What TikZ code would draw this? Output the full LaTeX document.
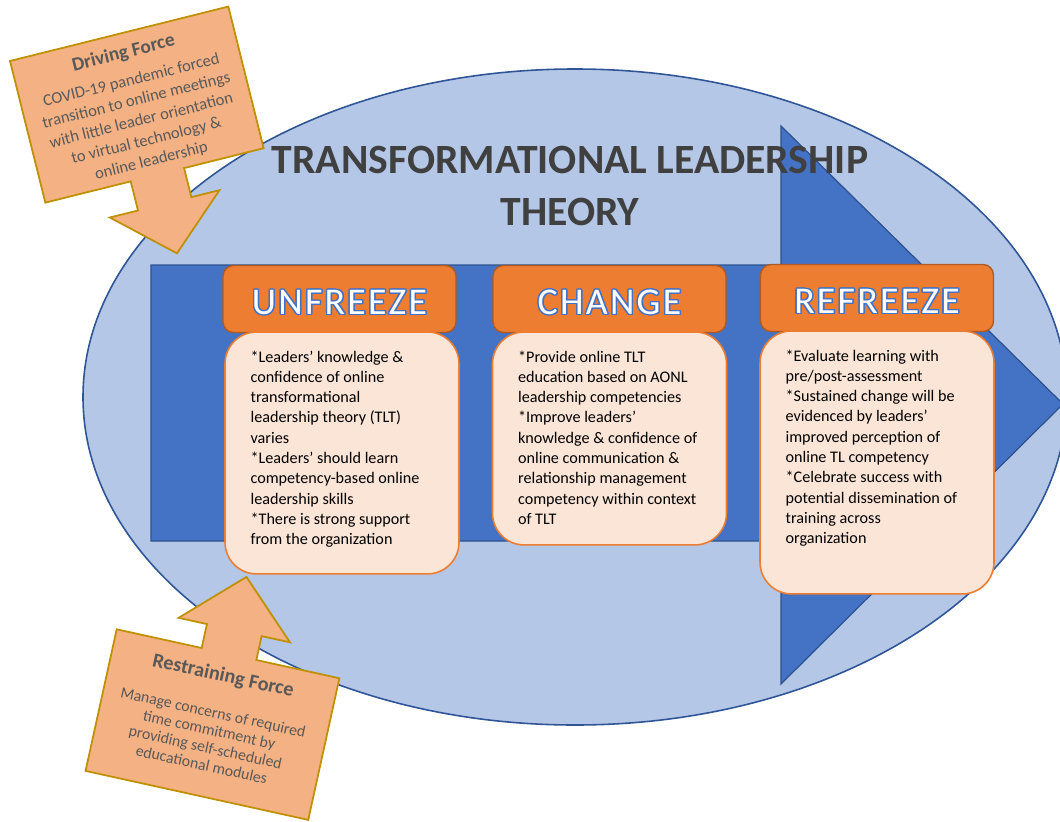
\documentclass[tikz,border=0pt]{standalone}
\usepackage{fontspec}
\setmainfont{Carlito}
\usepackage{contour}
\contourlength{0.8pt}
\usetikzlibrary{positioning}

\definecolor{ovalblue}{HTML}{B4C7E7}
\definecolor{ovalline}{HTML}{2F5597}
\definecolor{arrowblue}{HTML}{4472C4}
\definecolor{arrowline}{HTML}{2F528F}
\definecolor{headorange}{HTML}{ED7D31}
\definecolor{headline}{HTML}{AE5A21}
\definecolor{notefill}{HTML}{FBE5D6}
\definecolor{forcefill}{HTML}{F4B183}
\definecolor{forceline}{HTML}{BF9000}
\definecolor{forcetext}{HTML}{595959}
\definecolor{titlegray}{HTML}{404040}

\begin{document}
\begin{tikzpicture}[x=0.02cm, y=-0.02cm,
    oval/.style={fill=ovalblue, draw=ovalline, line width=0.9pt},
    flow/.style={fill=arrowblue, draw=arrowline, line width=0.7pt},
    stage/.style={fill=headorange, draw=headline, line width=0.8pt, rounded corners=6pt,
        minimum width=4.66cm, minimum height=1.34cm, inner sep=0pt, text=white,
        text height=17.6pt, text depth=0pt,
        font=\fontsize{21.5}{24}\selectfont\addfontfeatures{LetterSpace=6}},
    note/.style={fill=notefill, draw=headorange, line width=0.9pt, rounded corners=18pt,
        minimum width=4.68cm, inner sep=0pt},
    notetext/.style={anchor=north west, align=left, inner sep=0pt,
        font=\fontsize{9.2}{11.55}\selectfont},
    force/.style={fill=forcefill, draw=forceline, line width=1pt},
    forcehead/.style={text=forcetext, inner sep=0pt, transform shape,
        font=\bfseries\fontsize{11}{13}\selectfont},
    forcebody/.style={text=forcetext, align=center, inner sep=0pt, transform shape}]

    \clip (0,0) rectangle (1060,821);

    \draw[oval] (575,397) ellipse [x radius=492, y radius=328];
    \draw[flow] (151,265) -- (781,265) -- (781,126) -- (1063,404) -- (781,684) -- (781,541) -- (151,541) -- cycle;

    \node[font=\bfseries\fontsize{23.7}{29.6}\selectfont, text=titlegray, align=center] (title) at (570,186)
        {TRANSFORMATIONAL LEADERSHIP\\THEORY};

    \node[stage] (unfreeze) at (339.5,299) {\contour{arrowblue}{UNFREEZE}};
    \node[stage] (change) at (609.5,299) {\contour{arrowblue}{CHANGE}};
    \node[stage] (refreeze) at (877,298) {\contour{arrowblue}{REFREEZE}};

    \node[note, minimum height=4.84cm, below=-0.04cm of unfreeze, xshift=0.05cm] (unfreeze-note) {};
    \node[note, minimum height=4.26cm, below=-0.04cm of change] (change-note) {};
    \node[note, minimum height=5.26cm, below=-0.04cm of refreeze] (refreeze-note) {};

    \node[notetext] (unfreeze-text) at ([shift={(26,19)}]unfreeze-note.north west)
        {*Leaders’ knowledge \&\\confidence of online\\transformational\\leadership theory (TLT)\\varies\\*Leaders’ should learn\\competency-based online\\leadership skills\\*There is strong support\\from the organization};
    \node[notetext] (change-text) at ([shift={(26,19)}]change-note.north west)
        {*Provide online TLT\\education based on AONL\\leadership competencies\\*Improve leaders’\\knowledge \& confidence of\\online communication \&\\relationship management\\competency within context\\of TLT};
    \node[notetext] (refreeze-text) at ([shift={(26,19)}]refreeze-note.north west)
        {*Evaluate learning with\\pre/post-assessment\\*Sustained change will be\\evidenced by leaders’\\improved perception of\\online TL competency\\*Celebrate success with\\potential dissemination of\\training across\\organization};

    \begin{scope}[shift={(10,61)}, rotate=14]
        \draw[force] (0,0) -- (225,0) -- (225,146) -- (143,146) -- (143,176) -- (172,176) -- (115.5,227)
            -- (59,176) -- (88,176) -- (88,146) -- (0,146) -- cycle;
        \node[forcehead] (driving) at (112,20) {Driving Force};
        \node[forcebody, font=\fontsize{9.4}{11.8}\selectfont] (driving-text) at (113,90)
            {COVID-19 pandemic forced\\transition to online meetings\\with little leader orientation\\to virtual technology \&\\online leadership};
    \end{scope}

    \begin{scope}[shift={(116.7,629.3)}, rotate=-12.4]
        \draw[force] (0,0) -- (87,0) -- (87,-24.5) -- (58,-24.5) -- (115.5,-79) -- (172,-24.5) -- (143,-24.5)
            -- (143,0) -- (228,0) -- (228,145) -- (0,145) -- cycle;
        \node[forcehead, font=\bfseries\fontsize{11.5}{13}\selectfont] (restraining) at (114,23) {Restraining Force};
        \node[forcebody, font=\fontsize{9}{10.2}\selectfont] (restraining-text) at (112,87)
            {Manage concerns of required\\time commitment by\\providing self-scheduled\\educational modules};
    \end{scope}
\end{tikzpicture}
\end{document}
